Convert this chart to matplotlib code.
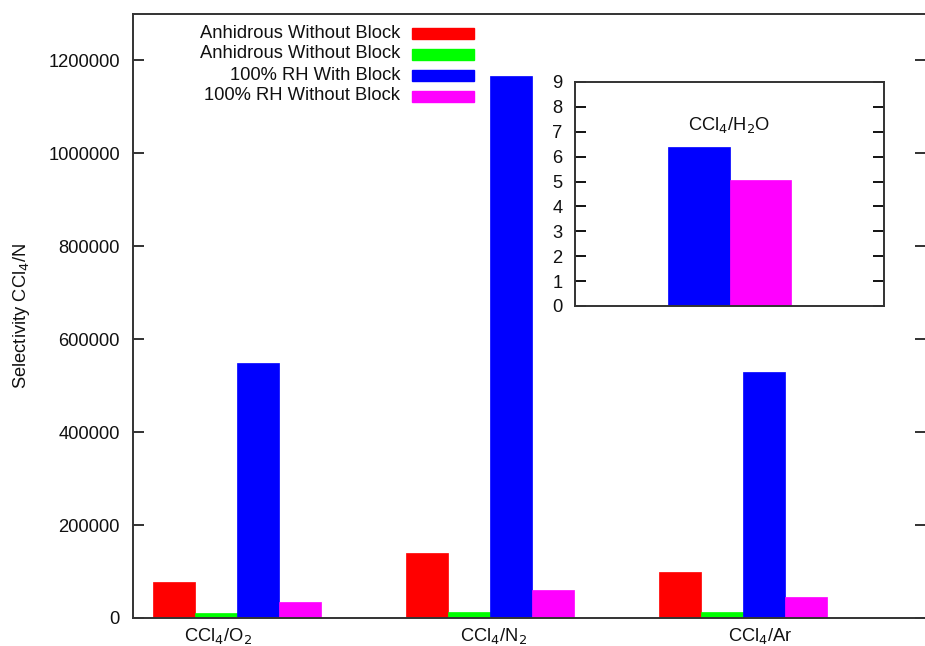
import matplotlib
matplotlib.use("Agg")
import matplotlib.pyplot as plt
from matplotlib.patches import Rectangle

plt.rcParams['font.family'] = ['Liberation Sans', 'DejaVu Sans']

# ---- data ----
categories = ["CCl$_4$/O$_2$", "CCl$_4$/N$_2$", "CCl$_4$/Ar"]
series_names = ["Anhidrous Without Block", "Anhidrous Without Block",
                "100% RH With Block", "100% RH Without Block"]
anh_red = [77000, 140000, 100000]
anh_green = [10000, 13500, 12000]
rh_block = [549000, 1167000, 530000]
rh_noblock = [35000, 60000, 46000]
series_values = [anh_red, anh_green, rh_block, rh_noblock]
colors = ["#ff0000", "#00ff00", "#0000ff", "#ff00ff"]

inset_title = "CCl$_4$/H$_2$O"
inset_values = [6.37, 5.08]
inset_colors = ["#0000ff", "#ff00ff"]

FS = 13.2
W, H = 925, 646
fig = plt.figure(figsize=(W / 100, H / 100), dpi=100)

def px_rect(l, t, r, b):
    return [l / W, 1 - b / H, (r - l) / W, (b - t) / H]

ax = fig.add_axes(px_rect(133, 14, 926, 618))
bw = 1.0 / 6
for j, vals in enumerate(series_values):
    xs = [g + (j - 1.5) * bw for g in range(len(vals))]
    ax.bar(xs, vals, width=bw, color=colors[j], edgecolor=colors[j],
           linewidth=0.5, zorder=2)

ax.set_xlim(-0.411, 2.723)
ax.set_ylim(0, 1300000)
ax.set_yticks(range(0, 1200001, 200000))
ax.set_yticklabels([str(v) for v in range(0, 1200001, 200000)])
ax.tick_params(axis='y', direction='in', length=8, width=1.3, right=True,
               labelsize=FS, pad=9.5, colors='#222222')
ax.tick_params(axis='y', labelcolor='#111111')
label_pos = [-0.075, 1.012, 2.067]
ax.set_xticks(label_pos)
ax.set_xticklabels(categories, fontsize=FS, color='#111111')
ax.tick_params(axis='x', length=0, pad=6)
for s in ax.spines.values():
    s.set_linewidth(1.4)
    s.set_color('#333333')
ax.set_ylabel("Selectivity CCl$_4$/N", fontsize=FS, labelpad=12, color='#111111')

# legend drawn gnuplot-style: right-aligned text with sample box
rows_y = [33, 54, 75, 96]
for name, col, yy in zip(series_names, colors, rows_y):
    fig.text(400 / W, 1 - yy / H, name, ha='right', va='center', fontsize=FS,
             color='#111111')
    fig.add_artist(Rectangle((412 / W, 1 - (yy + 5.5) / H), 62 / W, 11 / H,
                             facecolor=col, edgecolor=col,
                             transform=fig.transFigure))

# inset
ax2 = fig.add_axes(px_rect(575, 82, 884, 306))
ax2.bar([0.5, 1.5], inset_values, width=1.0, color=inset_colors,
        edgecolor=inset_colors, linewidth=0.5)
ax2.set_xlim(-1.5, 3.5)
ax2.set_ylim(0, 9)
ax2.set_yticks(range(0, 10))
ax2.set_xticks([])
ax2.tick_params(axis='y', direction='in', length=8, width=1.3, right=True,
                labelsize=FS, pad=9, labelcolor='#111111')
for s in ax2.spines.values():
    s.set_linewidth(1.4)
    s.set_color('#333333')
ax2.text(0.5, 0.81, inset_title, transform=ax2.transAxes, ha='center',
         va='center', fontsize=FS, color='#111111')

fig.savefig("out.png", dpi=100)
